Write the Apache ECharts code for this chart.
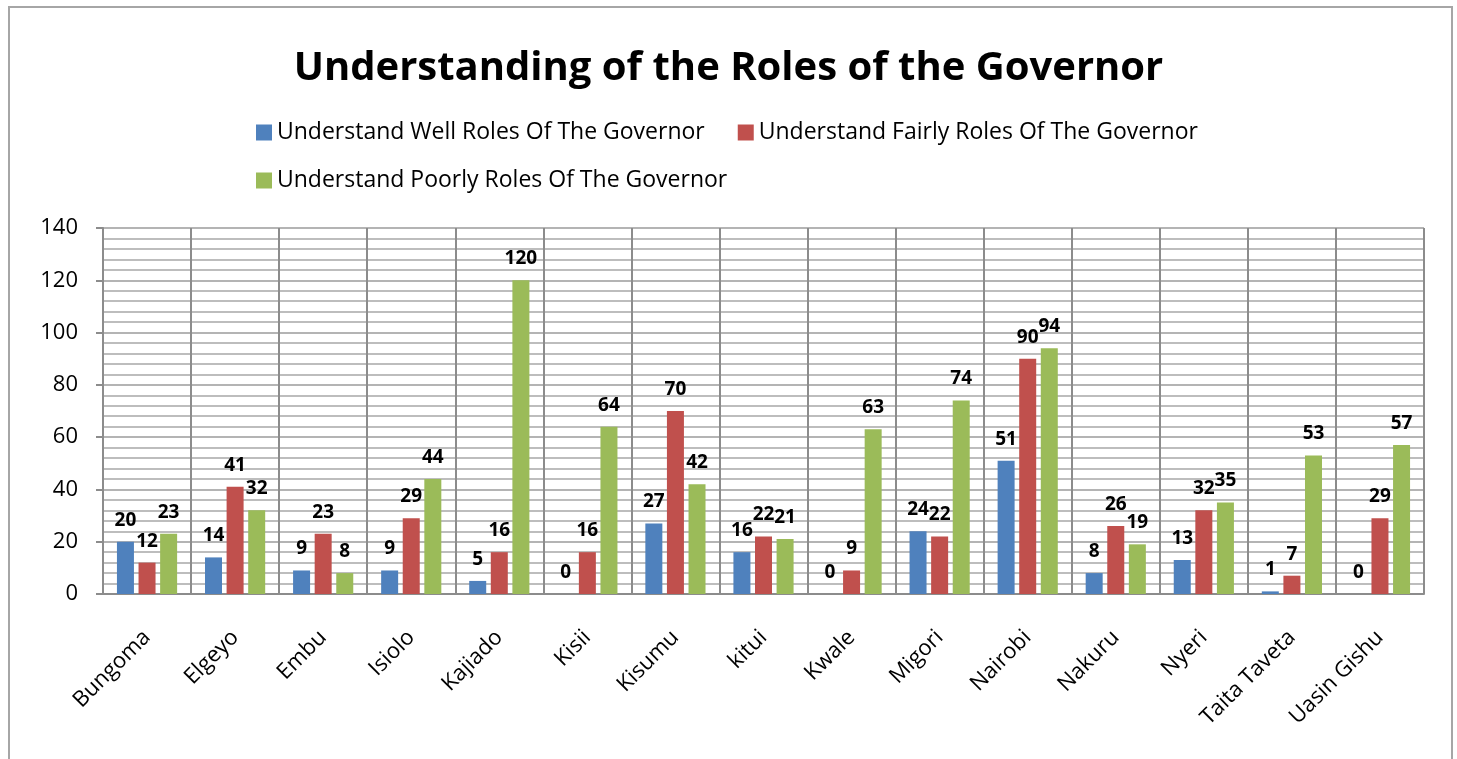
<!DOCTYPE html>
<html>
<head>
<meta charset="utf-8">
<title>Understanding of the Roles of the Governor</title>
<script src="https://cdn.jsdelivr.net/npm/echarts@6/dist/echarts.min.js"></script>
<style>
  html, body { margin: 0; padding: 0; background: #fff; }
  #chart { width: 1457px; height: 759px; }
</style>
</head>
<body>
<div id="chart"></div>
<script>
// Counties surveyed
const counties = ['Bungoma', 'Elgeyo', 'Embu', 'Isiolo', 'Kajiado', 'Kisii', 'Kisumu', 'kitui',
  'Kwale', 'Migori', 'Nairobi', 'Nakuru', 'Nyeri', 'Taita Taveta', 'Uasin Gishu'];

// Respondent counts per county
const understandWell   = [20, 14, 9, 9, 5, 0, 27, 16, 0, 24, 51, 8, 13, 1, 0];
const understandFairly = [12, 41, 23, 29, 16, 16, 70, 22, 9, 22, 90, 26, 32, 7, 29];
const understandPoorly = [23, 32, 8, 44, 120, 64, 42, 21, 63, 74, 94, 19, 35, 53, 57];

const seriesNames = [
  'Understand Well Roles Of The Governor',
  'Understand Fairly Roles Of The Governor',
  'Understand Poorly Roles Of The Governor'
];

// Y axis range
const yMin = 0, yMax = 140, yStep = 20;

const FONT = '"Open Sans", "Liberation Sans", sans-serif';
const colors = ['#4F81BD', '#C0504D', '#9BBB59'];

const chart = echarts.init(document.getElementById('chart'));

function barSeries(name, data, color) {
  return {
    name: name,
    type: 'bar',
    data: data,
    barWidth: 17,
    barGap: '27%',
    itemStyle: { color: color },
    label: {
      show: true,
      position: 'top',
      distance: 12,
      color: '#000',
      fontFamily: FONT,
      fontWeight: 'bold',
      fontSize: 19
    }
  };
}

const legendText = { fontFamily: FONT, fontSize: 23, color: '#000' };

chart.setOption({
  animation: false,
  color: colors,
  title: {
    text: 'Understanding of the Roles of the Governor',
    left: 'center',
    top: 44,
    textStyle: { fontFamily: FONT, fontSize: 40, fontWeight: 'bold', color: '#000' }
  },
  legend: [
    {
      data: [seriesNames[0], seriesNames[1]],
      left: 251, top: 116,
      itemWidth: 16, itemHeight: 16, itemGap: 33,
      icon: 'rect',
      textStyle: legendText
    },
    {
      data: [seriesNames[2]],
      left: 251, top: 164,
      itemWidth: 16, itemHeight: 16,
      icon: 'rect',
      textStyle: legendText
    }
  ],
  grid: { left: 103, right: 33, top: 228, bottom: 165 },
  xAxis: {
    type: 'category',
    data: counties,
    axisLine: { lineStyle: { color: '#8c8c8c', width: 2 } },
    axisTick: { show: false },
    splitLine: { show: true, lineStyle: { color: '#8c8c8c', width: 2 } },
    axisLabel: {
      interval: 0,
      rotate: 45,
      margin: 40,
      fontFamily: FONT,
      fontSize: 22,
      color: '#000'
    }
  },
  yAxis: {
    type: 'value',
    min: yMin, max: yMax, interval: yStep,
    axisLine: { show: true, lineStyle: { color: '#8c8c8c', width: 2 } },
    axisTick: { show: true, length: 7, lineStyle: { color: '#8c8c8c', width: 2 } },
    axisLabel: { fontFamily: FONT, fontSize: 22, color: '#000', margin: 25 },
    splitLine: { show: true, lineStyle: { color: '#b4b4b4', width: 2 } },
    minorTick: { show: false, splitNumber: 5 },
    minorSplitLine: { show: true, lineStyle: { color: '#bdbdbd', width: 2 } }
  },
  graphic: [
    {
      type: 'rect',
      shape: { x: 9, y: 7, width: 1443, height: 800 },
      style: { fill: 'none', stroke: '#a6a6a6', lineWidth: 2 },
      silent: true
    }
  ],
  series: [
    barSeries(seriesNames[0], understandWell, colors[0]),
    barSeries(seriesNames[1], understandFairly, colors[1]),
    barSeries(seriesNames[2], understandPoorly, colors[2])
  ]
});
</script>
</body>
</html>
